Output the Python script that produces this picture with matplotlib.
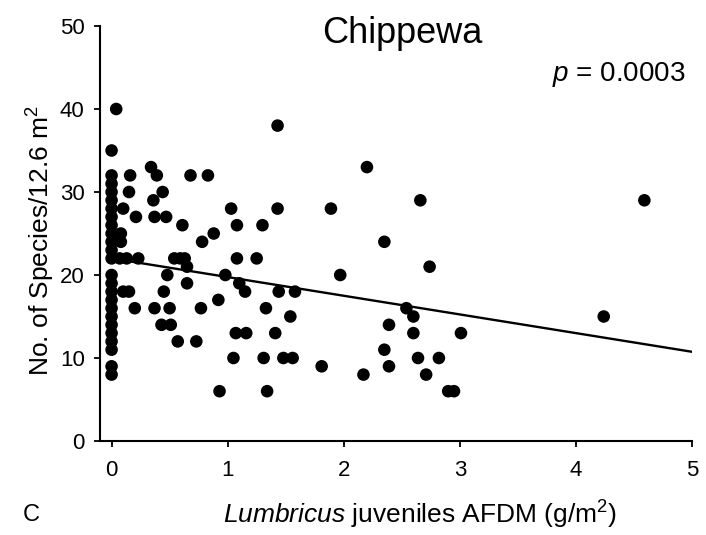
import matplotlib
matplotlib.use("Agg")
import matplotlib.pyplot as plt

plt.rcParams['font.family'] = ['Liberation Sans', 'DejaVu Sans']
plt.rcParams['mathtext.fontset'] = 'custom'
plt.rcParams['mathtext.rm'] = 'Liberation Sans'
plt.rcParams['mathtext.it'] = 'Liberation Sans:italic'

# plots at x = 0 (no juveniles found)
zero_species = [40, 35, 32, 31, 30, 29, 28, 27, 26, 25, 24, 23, 22,
                20, 19, 18, 17, 16, 15, 14, 13, 12, 11, 9, 8]
zero_afdm = [0.04] + [0.0] * (len(zero_species) - 1)

# plots with juveniles present
afdm = [0.16, 0.34, 0.39, 0.68, 0.83, 0.15, 0.44, 0.36, 0.10, 0.21,
        0.37, 0.47, 0.61, 0.08, 0.08, 0.78, 0.88, 1.43, 1.03, 1.43,
        1.89, 1.08, 1.30, 1.08, 1.25, 0.07, 0.13, 0.23, 0.54, 0.59,
        0.63, 0.65, 0.48, 0.65, 0.10, 0.15, 0.45, 0.20, 0.37, 0.50,
        0.77, 0.43, 0.51, 0.57, 0.73, 0.98, 1.10, 1.15, 0.92, 1.44,
        1.58, 1.33, 1.54, 1.07, 1.16, 1.41, 1.05, 1.31, 1.48, 1.56,
        1.81, 0.93, 1.34, 2.20, 2.66, 2.35, 2.74, 1.97, 2.54, 2.60,
        2.39, 2.60, 3.01, 2.35, 2.39, 2.64, 2.82, 2.71, 2.17, 2.90,
        2.95, 4.24, 4.59]
species = [32, 33, 32, 32, 32, 30, 30, 29, 28, 27,
           27, 27, 26, 25, 24, 24, 25, 38, 28, 28,
           28, 26, 26, 22, 22, 22, 22, 22, 22, 22,
           22, 21, 20, 19, 18, 18, 18, 16, 16, 16,
           16, 14, 14, 12, 12, 20, 19, 18, 17, 18,
           18, 16, 15, 13, 13, 13, 10, 10, 10, 10,
           9, 6, 6, 33, 29, 24, 21, 20, 16, 15,
           14, 13, 13, 11, 9, 10, 10, 8, 8, 6,
           6, 15, 29]

# fitted regression line
fit_x = [0, 5]
fit_intercept = 22.0
fit_slope = -2.25

xticks = [0, 1, 2, 3, 4, 5]
yticks = [0, 10, 20, 30, 40, 50]

fig = plt.figure(figsize=(7.06, 5.35), dpi=100)
ax = fig.add_axes([0.1416, 0.1757, 0.8385, 0.7757])

ax.scatter(zero_afdm + afdm, zero_species + species, s=82, color='black',
           edgecolors='none', zorder=3, clip_on=False)
ax.plot(fit_x, [fit_intercept + fit_slope * v for v in fit_x],
        color='black', linewidth=1.7, zorder=2)

ax.set_xlim(-0.1, 5)
ax.set_ylim(0, 50)
ax.set_xticks(xticks)
ax.set_yticks(yticks)
for side in ['top', 'right']:
    ax.spines[side].set_visible(False)
for side in ['left', 'bottom']:
    ax.spines[side].set_linewidth(1.5)
ax.tick_params(direction='out', length=4, width=1.3, labelsize=16, pad=7)
ax.tick_params(axis='x', pad=10)

ax.set_ylabel('No. of Species/12.6 m$^2$', fontsize=19)
ax.yaxis.set_label_coords(-0.10, 0.484)
ax.yaxis.label.set_va('center')
ax.set_xlabel(r'$\it{Lumbricus}$ juveniles AFDM (g/m$^2$)', fontsize=19)
ax.xaxis.set_label_coords(0.54, -0.178)
ax.xaxis.label.set_va('center')

ax.text(0.51, 0.983, 'Chippewa', transform=ax.transAxes, fontsize=26,
        ha='center', va='center')
ax.text(0.877, 0.882, '$p$ = 0.0003', transform=ax.transAxes, fontsize=20,
        ha='center', va='center')
fig.text(0.044, 0.037, 'C', fontsize=17, ha='center', va='center')

fig.savefig('out.png', dpi=100)
